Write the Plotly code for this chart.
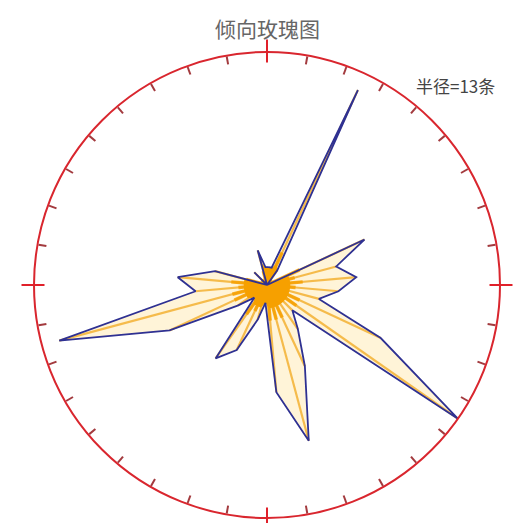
import numpy as np
import plotly.graph_objects as go

# Dip-direction bins (10° wide, labelled by bin centre, clockwise from north)
bin_centers = list(range(5, 360, 10))
counts = [1, 1, 12, 1, 0, 0, 6, 4, 5, 4, 3, 7,
          13, 2, 3, 5, 9, 6, 1, 2, 4, 5, 1, 2,
          6, 12, 4, 5, 3, 0, 0, 1, 0, 0, 2, 1]
radius_max = 13
title_text = "倾向玫瑰图"

theta = np.array(bin_centers, dtype=float)
r = np.array(counts, dtype=float)

# closed outline
theta_c = np.append(theta, theta[0])
r_c = np.append(r, r[0])

# spokes from the centre to each vertex (thin full-length + short thick base)
sp_r, sp_t, in_r, in_t = [], [], [], []
for t, v in zip(theta, r):
    if v > 0:
        sp_r += [0, v, None]
        sp_t += [t, t, None]
        in_r += [0, min(v * 0.4, 2.0), None]
        in_t += [t, t, None]

core_r = np.append(np.minimum(r, 1.3), min(r[0], 1.3))

dom_x = [(267 - 233) / 514, (267 + 233) / 514]
dom_y = [5 / 523, 471 / 523]

fig = go.Figure()

fig.add_trace(go.Scatterpolar(
    r=r_c, theta=theta_c, mode="lines", fill="toself",
    fillcolor="#FFF4D8", line=dict(width=0), hoverinfo="skip",
    showlegend=False, subplot="polar"))
fig.add_trace(go.Scatterpolar(
    r=sp_r, theta=sp_t, mode="lines",
    line=dict(color="rgba(242,172,40,0.8)", width=2.2), hoverinfo="skip",
    showlegend=False, subplot="polar"))
fig.add_trace(go.Scatterpolar(
    r=in_r, theta=in_t, mode="lines",
    line=dict(color="rgba(246,160,0,0.85)", width=3.5), hoverinfo="skip",
    showlegend=False, subplot="polar"))
fig.add_trace(go.Scatterpolar(
    r=core_r, theta=theta_c, mode="lines", fill="toself",
    fillcolor="#F6A000", line=dict(width=0), hoverinfo="skip",
    showlegend=False, subplot="polar"))
fig.add_trace(go.Scatterpolar(
    r=r_c, theta=theta_c, mode="lines",
    line=dict(color="#2F3192", width=1.8), hoverinfo="skip",
    showlegend=False, subplot="polar"))

# empty traces so the overlay subplots (cardinal tick marks) are drawn
for sp in ("polar2", "polar3"):
    fig.add_trace(go.Scatterpolar(r=[], theta=[], subplot=sp,
                                  showlegend=False, hoverinfo="skip"))

hidden_radial = dict(visible=False, range=[0, radius_max])

fig.update_layout(
    width=514, height=523,
    margin=dict(l=0, r=0, t=0, b=0),
    paper_bgcolor="white",
    polar=dict(
        domain=dict(x=dom_x, y=dom_y),
        bgcolor="white",
        radialaxis=hidden_radial,
        angularaxis=dict(
            rotation=90, direction="clockwise",
            showline=True, linecolor="#D9262E", linewidth=2,
            ticks="inside", tickmode="linear", tick0=0, dtick=10,
            ticklen=8, tickwidth=1.5, tickcolor="#A33A3E",
            showticklabels=False, showgrid=False),
    ),
    polar2=dict(
        domain=dict(x=dom_x, y=dom_y),
        bgcolor="rgba(0,0,0,0)",
        radialaxis=hidden_radial,
        angularaxis=dict(
            rotation=90, direction="clockwise", showline=False,
            ticks="outside", tickmode="linear", tick0=0, dtick=90,
            ticklen=12, tickwidth=2, tickcolor="#E0202A",
            showticklabels=False, showgrid=False),
    ),
    polar3=dict(
        domain=dict(x=dom_x, y=dom_y),
        bgcolor="rgba(0,0,0,0)",
        radialaxis=hidden_radial,
        angularaxis=dict(
            rotation=90, direction="clockwise", showline=False,
            ticks="inside", tickmode="linear", tick0=0, dtick=90,
            ticklen=10, tickwidth=2, tickcolor="#E0202A",
            showticklabels=False, showgrid=False),
    ),
    annotations=[
        dict(text=title_text, x=267 / 514, y=1 - 28 / 523,
             xref="paper", yref="paper", xanchor="center", yanchor="middle",
             showarrow=False,
             font=dict(family="Noto Sans CJK SC", size=21, color="#666666")),
        dict(text=f"半径={radius_max}条", x=414 / 514, y=1 - 85 / 523,
             xref="paper", yref="paper", xanchor="left", yanchor="middle",
             showarrow=False,
             font=dict(family="Noto Sans CJK SC", size=17, color="#444444")),
    ],
)

fig.write_html("out.html")
